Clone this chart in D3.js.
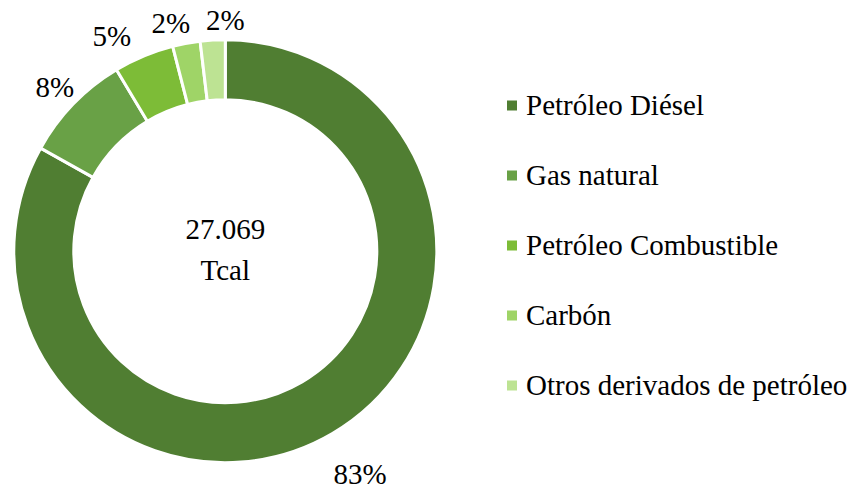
<!DOCTYPE html>
<html><head><meta charset="utf-8">
<script src="https://cdn.jsdelivr.net/npm/d3@7"></script>
<style>html,body{margin:0;padding:0;background:#fff;}svg{display:block;}</style>
</head><body>
<svg id="chart" width="855" height="489"></svg>
<script>
const categories = ["Petróleo Diésel","Gas natural","Petróleo Combustible","Carbón","Otros derivados de petróleo"];
const shares = [83.1, 8.3, 4.6, 2.1, 1.9];
const percentLabels = ["83%","8%","5%","2%","2%"];
const colors = ["#507e32","#69a146","#7dbc37","#9fd467","#bde393"];
const centerLines = ["27.069","Tcal"];

const W = 855, H = 489;
const cx = 225.3, cy = 251.2, rOuter = 211.5, rInner = 151.5;
const font = "'Liberation Serif','Times New Roman',serif";
const fs = 29;

const svg = d3.select("#chart");
const g = svg.append("g").attr("transform", `translate(${cx},${cy})`);

const pie = d3.pie().sort(null).value(d => d)(shares);
const arc = d3.arc().innerRadius(rInner).outerRadius(rOuter);

g.selectAll("path.slice").data(pie).join("path")
  .attr("class","slice")
  .attr("d", arc)
  .attr("fill", (d,i) => colors[i])
  .attr("stroke", "#fff")
  .attr("stroke-width", 3)
  .attr("stroke-linejoin","miter");

// label placement (layout tweaks: radius and angle nudge in degrees)
const labelR = [260, 236.5, 243.5, 234.7, 231.2];
const labelNudge = [-0.8, -0.2, -5.1, -2.8, 3.4];
g.selectAll("text.pct").data(pie).join("text")
  .attr("class","pct")
  .attr("transform", (d,i) => {
    const a = (d.startAngle + d.endAngle)/2 + labelNudge[i]*Math.PI/180;
    return `translate(${Math.sin(a)*labelR[i]},${-Math.cos(a)*labelR[i]})`;
  })
  .attr("text-anchor","middle")
  .attr("dy", 10)
  .attr("font-family", font)
  .attr("font-size", fs)
  .attr("fill", "#000")
  .text((d,i) => percentLabels[i]);

// center text
g.selectAll("text.center").data(centerLines).join("text")
  .attr("class","center")
  .attr("x", 0)
  .attr("y", (d,i) => i === 0 ? -12.5 : 28.5)
  .attr("text-anchor","middle")
  .attr("font-family", font)
  .attr("font-size", fs)
  .attr("fill","#000")
  .text(d => d);

// legend
const legY = d3.scalePoint().domain(categories).range([105.5, 385.5]);
const leg = svg.append("g");
const items = leg.selectAll("g").data(categories).join("g")
  .attr("transform", d => `translate(507,${legY(d)})`);
items.append("rect")
  .attr("x", 0).attr("y", -5).attr("width", 10).attr("height", 10)
  .attr("fill", (d,i) => colors[i]);
items.append("text")
  .attr("x", 19).attr("y", 9)
  .attr("font-family", font)
  .attr("font-size", fs)
  .attr("fill","#000")
  .text(d => d);
</script>
</body></html>
